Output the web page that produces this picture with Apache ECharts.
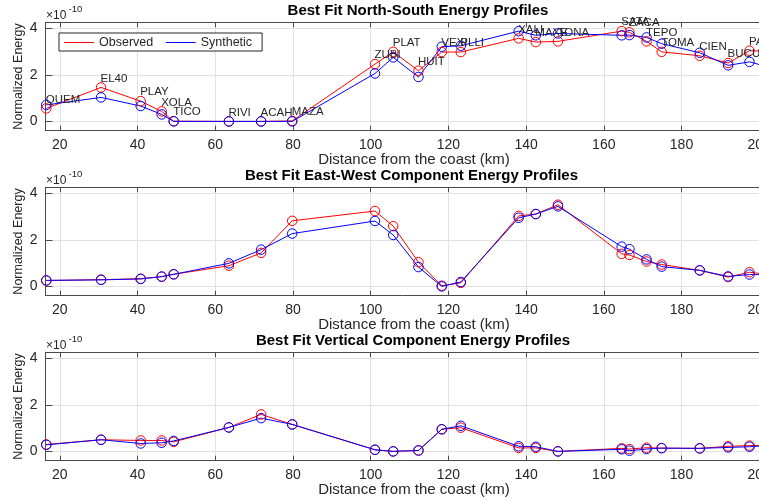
<!DOCTYPE html>
<html>
<head>
<meta charset="utf-8">
<script src="https://cdn.jsdelivr.net/npm/echarts@6/dist/echarts.min.js"></script>
<style>
  html, body { margin: 0; padding: 0; background: #fff; }
  #chart { width: 759px; height: 501px; }
</style>
</head>
<body>
<div id="chart"></div>
<script>
// Stations along the profile and their distance from the coast (km)
const stations = ['QUEM', 'EL40', 'PLAY', 'XOLA', 'TICO', 'RIVI', 'ACAH', 'MAZA', 'ZUBI', 'PLAT', 'HUIT', 'VEXI',
  'PLLI', 'XALI', 'MAXE', 'TONA', 'SATA', 'ZACA', 'TEPO', 'TOMA', 'CIEN', 'BUCU', 'PALM', ''];
const distanceKm = [16.5, 30.6, 40.8, 46.2, 49.3, 63.5, 71.8, 79.8, 101.1, 105.8, 112.3, 118.3,
  123.2, 138.1, 142.5, 148.2, 164.6, 166.6, 171.0, 174.9, 184.7, 192.0, 197.5, 204.0];

// Normalized energy, in units of 1e-10
const nsObserved  = [0.56, 1.46, 0.87, 0.43, 0.01, 0.00, 0.00, 0.02, 2.46, 2.99, 2.18, 2.98,
  2.98, 3.57, 3.41, 3.44, 3.88, 3.83, 3.44, 2.99, 2.82, 2.51, 3.04, 3.00];
const nsSynthetic = [0.71, 1.03, 0.66, 0.30, 0.00, 0.00, 0.00, 0.00, 2.06, 2.75, 1.91, 3.21,
  3.25, 3.88, 3.70, 3.78, 3.70, 3.71, 3.61, 3.34, 2.95, 2.41, 2.56, 2.26];

const ewObserved  = [0.25, 0.29, 0.33, 0.42, 0.52, 0.89, 1.44, 2.82, 3.24, 2.59, 1.04, 0.03,
  0.15, 3.03, 3.11, 3.51, 1.40, 1.35, 1.07, 0.94, 0.69, 0.40, 0.61, 0.48];
const ewSynthetic = [0.26, 0.28, 0.32, 0.42, 0.52, 0.99, 1.58, 2.27, 2.81, 2.21, 0.83, 0.00,
  0.19, 2.95, 3.11, 3.44, 1.71, 1.60, 1.16, 0.85, 0.69, 0.43, 0.51, 0.50];

const zObserved   = [0.30, 0.50, 0.47, 0.47, 0.41, 1.03, 1.59, 1.16, 0.07, 0.00, 0.04, 0.95,
  1.02, 0.15, 0.15, 0.00, 0.13, 0.10, 0.16, 0.14, 0.13, 0.22, 0.25, 0.27];
const zSynthetic  = [0.28, 0.50, 0.34, 0.37, 0.45, 1.03, 1.43, 1.16, 0.07, 0.00, 0.04, 0.95,
  1.10, 0.22, 0.20, 0.00, 0.09, 0.03, 0.10, 0.14, 0.13, 0.17, 0.20, 0.27];

const panelTitles = ['Best Fit North-South Energy Profiles',
  'Best Fit East-West Component Energy Profiles',
  'Best Fit Vertical Component Energy Profiles'];
const xAxisTitle = 'Distance from the coast (km)';
const yAxisTitle = 'Normalized Energy';
const xTickStep = 20;
const yTickStep = 2;

// ---- layout & style ----
const FONT = '"Liberation Sans", Arial, Helvetica, sans-serif';
const panelTop = [22.3, 187.3, 352.3];
const panelH = 108.4;
const gridLeft = 45.5, gridW = 737;
const X_MIN = 16.3, X_MAX = 206, Y_MIN = -0.4, Y_MAX = 4.26;
const axisColor = '#4a4a4a', gridColor = '#e2e2e2', textColor = '#262626';
const titleX = [418, 411.5, 413];
const titleY = [11.2, 176, 341];

const panels = [
  [nsObserved, nsSynthetic],
  [ewObserved, ewSynthetic],
  [zObserved, zSynthetic]
];

const onStep = (v, s) => Math.abs(v / s - Math.round(v / s)) < 1e-6;

const grid = [], xAxis = [], yAxis = [], series = [], graphic = [];

panels.forEach(([obs, syn], i) => {
  grid.push({ left: gridLeft, top: panelTop[i], width: gridW, height: panelH,
    containLabel: false, outerBoundsMode: 'none' });

  // bottom axis with labels
  xAxis.push({
    gridIndex: i, type: 'value', position: 'bottom', min: X_MIN, max: X_MAX,
    minInterval: xTickStep, maxInterval: xTickStep,
    axisLine: { show: true, onZero: false, lineStyle: { color: axisColor, width: 1 } },
    axisTick: { show: true, inside: true, length: 5, lineStyle: { color: axisColor } },
    axisLabel: { margin: 7, color: textColor, fontSize: 14, fontFamily: FONT,
      formatter: v => onStep(v, xTickStep) ? String(Math.round(v)) : '' },
    splitLine: { show: true, showMinLine: false, showMaxLine: false,
      lineStyle: { color: gridColor, width: 1 } },
    name: xAxisTitle, nameLocation: 'middle', nameGap: 22, nameMoveOverlap: false,
    nameTextStyle: { color: textColor, fontSize: 15, fontFamily: FONT }
  });
  // top edge of the box
  xAxis.push({
    gridIndex: i, type: 'value', position: 'top', min: X_MIN, max: X_MAX,
    minInterval: xTickStep, maxInterval: xTickStep,
    axisLine: { show: true, onZero: false, lineStyle: { color: axisColor, width: 1 } },
    axisTick: { show: true, inside: true, length: 5, lineStyle: { color: axisColor } },
    axisLabel: { show: false },
    splitLine: { show: false }
  });

  yAxis.push({
    gridIndex: i, type: 'value', min: Y_MIN, max: Y_MAX,
    minInterval: yTickStep, maxInterval: yTickStep,
    axisLine: { show: true, onZero: false, lineStyle: { color: axisColor, width: 1 } },
    axisTick: { show: true, inside: true, length: 7, lineStyle: { color: axisColor } },
    axisLabel: { margin: 8, color: textColor, fontSize: 14, fontFamily: FONT,
      formatter: v => onStep(v, yTickStep) ? String(Math.round(v)) : '' },
    splitLine: { show: true, showMinLine: false, showMaxLine: false,
      lineStyle: { color: gridColor, width: 1 } },
    name: yAxisTitle, nameLocation: 'middle', nameGap: 20, nameMoveOverlap: false,
    nameTextStyle: { color: textColor, fontSize: 12.5, fontFamily: FONT }
  });

  const mk = (name, values, color, withLabels) => ({
    type: 'line', name, xAxisIndex: i * 2, yAxisIndex: i,
    data: distanceKm.map((d, k) => [d, values[k]]),
    symbol: 'circle', symbolSize: 9.5, showAllSymbol: true,
    lineStyle: { color, width: 1 },
    itemStyle: { color: 'rgba(0,0,0,0)', borderColor: color, borderWidth: 1 },
    emphasis: { disabled: true },
    label: withLabels ? {
      show: true, position: [4.75, -3.75], align: 'left', verticalAlign: 'middle',
      color: textColor, fontSize: 11.5, fontFamily: FONT,
      formatter: p => stations[p.dataIndex]
    } : { show: false },
    labelLayout: { hideOverlap: false },
    animation: false
  });
  series.push(mk('Observed', obs, '#ff0000', i === 0));
  series.push(mk('Synthetic', syn, '#0000ff', false));

  graphic.push({
    type: 'text', x: titleX[i], y: titleY[i], silent: true, z: 10,
    style: { text: panelTitles[i], font: 'bold 15px ' + FONT, fill: '#000',
      align: 'center', textAlign: 'center', verticalAlign: 'middle', textVerticalAlign: 'middle' }
  });
  graphic.push({
    type: 'text', x: 46, y: panelTop[i] - 7, silent: true, z: 10,
    style: { text: '\u00d710', font: '12px ' + FONT, fill: textColor,
      align: 'left', textAlign: 'left', verticalAlign: 'middle', textVerticalAlign: 'middle' }
  });
  graphic.push({
    type: 'text', x: 68.5, y: panelTop[i] - 12.8, silent: true, z: 10,
    style: { text: '-10', font: '9.5px ' + FONT, fill: textColor,
      align: 'left', textAlign: 'left', verticalAlign: 'middle', textVerticalAlign: 'middle' }
  });
});

const chart = echarts.init(document.getElementById('chart'), null, { renderer: 'canvas' });
chart.setOption({
  backgroundColor: '#ffffff',
  animation: false,
  grid, xAxis, yAxis, series, graphic,
  legend: {
    left: 59, top: 33, orient: 'horizontal',
    padding: [3, 10, 2, 5], itemGap: 12.5, itemWidth: 30, itemHeight: 1,
    backgroundColor: '#ffffff', borderColor: '#262626', borderWidth: 1, borderRadius: 0,
    icon: 'rect', selectedMode: false,
    textStyle: { fontSize: 12.5, color: textColor, fontFamily: FONT },
    data: [
      { name: 'Observed', itemStyle: { color: '#ff0000', borderWidth: 0 } },
      { name: 'Synthetic', itemStyle: { color: '#0000ff', borderWidth: 0 } }
    ]
  }
});
</script>
</body>
</html>
